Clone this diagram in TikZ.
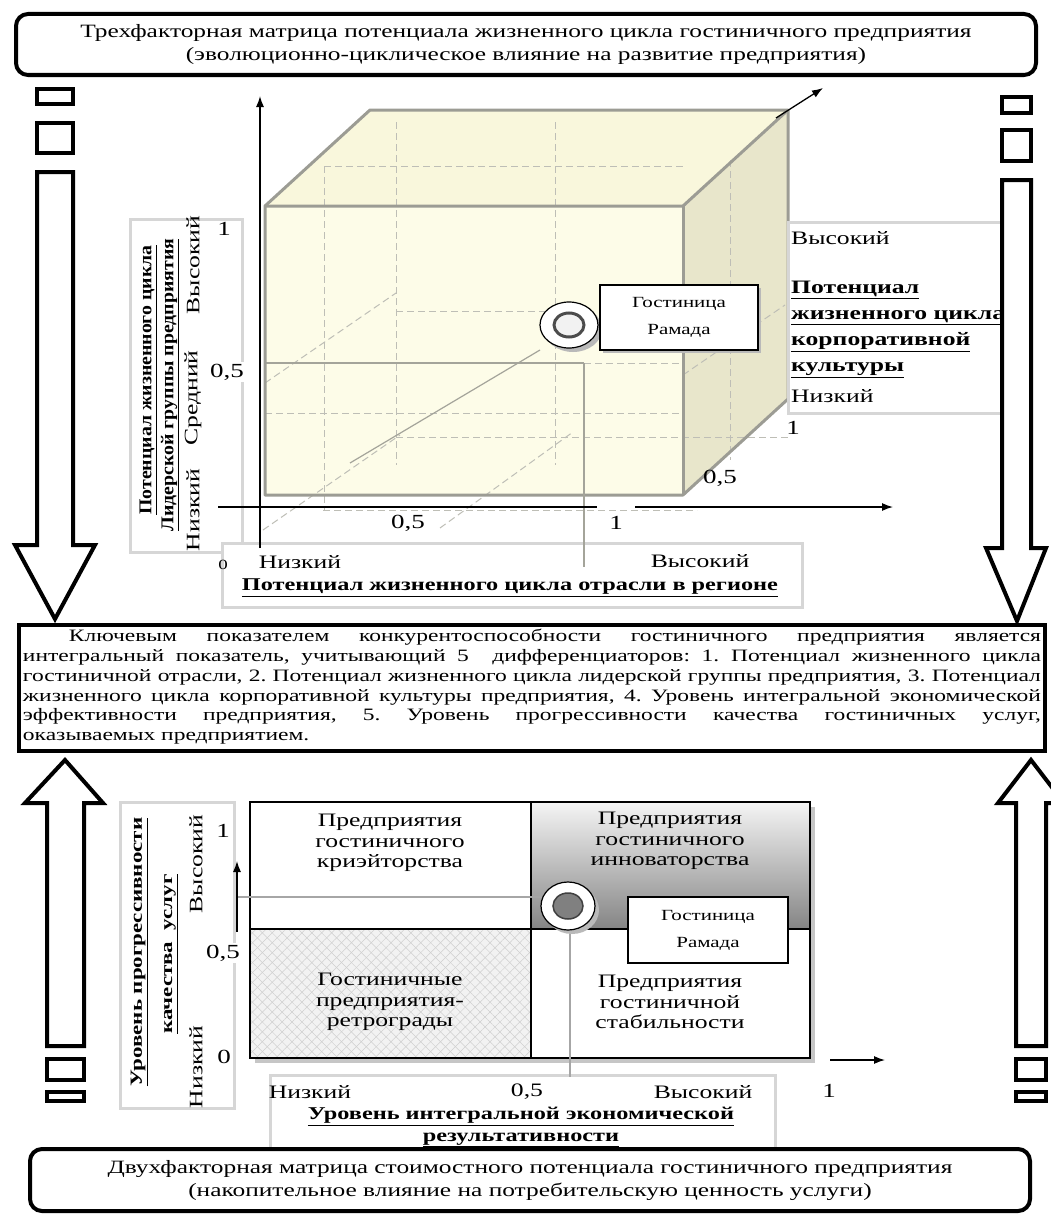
\documentclass[tikz,border=0pt]{standalone}
\usepackage{fontspec}
\setmainfont{Liberation Serif}[FakeStretch=1.35]
\newfontfamily\narrowfont{Liberation Serif}[FakeStretch=1.1]
\usetikzlibrary{arrows.meta,patterns.meta,shadings}
\frenchspacing
\definecolor{cubefront}{HTML}{FDFCE8}
\definecolor{cubetop}{HTML}{F9F7DC}
\definecolor{cubeside}{HTML}{E8E6CB}
\definecolor{cubeedge}{HTML}{9C9C94}
\definecolor{gridgray}{HTML}{BEBEB6}
\definecolor{thingray}{HTML}{A4A49A}
\definecolor{boxgray}{HTML}{D6D6D6}
\definecolor{hatchgray}{HTML}{CFCFCF}
\tikzset{
  blockarrow/.style={draw=black,line width=4pt,fill=white,line join=miter},
  barbox/.style={draw=black,line width=4pt,fill=white},
  lbl/.style={font=\fontsize{19}{22}\selectfont,inner sep=0pt},
  numlbl/.style={font=\fontsize{20}{22}\selectfont,inner sep=1.5pt,fill=white},
  blbl/.style={font=\fontsize{18}{26}\selectfont\bfseries,inner sep=0pt},
  griddash/.style={draw=gridgray,dash pattern=on 7pt off 4pt,line width=1pt},
  thinline/.style={draw=thingray,line width=1.2pt},
  graybox/.style={draw=boxgray,line width=3pt,fill=white},
  quadtxt/.style={font=\fontsize{19}{20.5}\selectfont,align=center,inner sep=0pt},
  ramadabox/.style={draw=black,line width=1.5pt,fill=white,font=\fontsize{15.5}{27}\selectfont,align=center},
  axisarrow/.style={draw=black,line width=1.3pt,-{Latex[length=11pt,width=8pt]}},
  axisline/.style={draw=black,line width=1.3pt},
  titlebox/.style={draw=black,line width=4pt,rounded corners=12pt,fill=white,align=center,font=\fontsize{18.8}{23}\selectfont},
}
\begin{document}
\begin{tikzpicture}[x=1pt,y=-1pt]
\useasboundingbox (0,0) rectangle (1050,1215);
\fill[white] (0,0) rectangle (1050,1215);

% ---------- top title ----------
\node[titlebox,minimum width=1020pt,minimum height=61pt] (title) at (526,44.5)
  {Трехфакторная матрица потенциала жизненного цикла гостиничного предприятия\\(эволюционно-циклическое влияние на развитие предприятия)};

% ---------- cube ----------
\coordinate (FTL) at (265,206);
\coordinate (FTR) at (683,206);
\coordinate (FBR) at (683,495);
\coordinate (FBL) at (265,495);
\coordinate (BTL) at (370,110);
\coordinate (BTR) at (788,110);
\coordinate (BBR) at (788,399);
\fill[cubetop] (FTL) -- (FTR) -- (BTR) -- (BTL) -- cycle;
\fill[cubeside] (FTR) -- (BTR) -- (BBR) -- (FBR) -- cycle;
\fill[cubefront] (FTL) rectangle (FBR);

% grid
\draw[griddash] (324,166) -- (324,510);
\draw[griddash] (324,166) -- (683,166);
\draw[griddash] (730,160) -- (730,460);
\draw[griddash] (396,122) -- (396,465);
\draw[griddash] (555,122) -- (555,465);
\draw[griddash] (396,311) -- (555,311);
\draw[griddash] (265,413) -- (683,413);
\draw[griddash] (396,437) -- (790,437);
\draw[griddash] (584,363) -- (683,363);
\draw[griddash] (265,383) -- (396,293);
\draw[griddash] (263,530) -- (400,435);
\draw[griddash] (440,528) -- (573,432);
\draw[griddash] (683,375) -- (785,305);
\draw[griddash] (323,510) -- (697,510);
\draw[thinline] (265,363) -- (584,363);
\draw[thinline] (350,463) -- (540,350);

% cube edges
\draw[cubeedge,line width=3pt,line join=round] (FBL) -- (FTL) -- (BTL) -- (BTR) -- (BBR) -- (FBR) -- cycle;
\draw[cubeedge,line width=3pt,line join=round] (FTL) -- (FTR) -- (BTR);
\draw[cubeedge,line width=3pt] (FTR) -- (FBR);

% label boxes of cube
\draw[graybox] (130,219) rectangle (242,552);
\draw[graybox] (788,222) rectangle (1021,413);
\draw[graybox] (222,543) rectangle (802,607);

\draw[thinline] (584,363) -- (584,567);

% axes
\coordinate (yb) at (260,548);
\coordinate (yt) at (260,96);
\draw[axisarrow] (yb) -- (yt);
\coordinate (xa) at (218,507);
\coordinate (xb) at (597,507);
\coordinate (xc) at (635,507);
\coordinate (xd) at (893,507);
\draw[axisline] (xa) -- (xb);
\draw[axisarrow] (xc) -- (xd);
\coordinate (za) at (776,118);
\coordinate (zb) at (823,88);
\draw[axisarrow] (za) -- (zb);

% Ramada marker (cube)
\fill[gray!55] (573,329) ellipse [x radius=29, y radius=23];
\draw[black,line width=1.2pt,fill=white] (569,325) ellipse [x radius=29, y radius=23];
\draw[black!70,line width=3pt,fill=white!95!black] (569,325) ellipse [x radius=15, y radius=12];
\node (ring1) at (569,325) {};
\fill[gray!55] (603,288) rectangle (761,353);
\node[ramadabox,minimum width=158pt,minimum height=65pt] (ramada1) at (679,317.5) {Гостиница\\Рамада};

% cube labels
\node[numlbl] (c1) at (224,229) {1};
\node[numlbl] (c05) at (227,372) {0,5};
\node[lbl,font=\fontsize{14}{16}\selectfont] (c0) at (223,565) {0};
\node[lbl] (cnx) at (300,562) {Низкий};
\node[lbl] (cvx) at (700,561) {Высокий};
\node[blbl] (cxt) at (510,588) {\underline{Потенциал жизненного цикла отрасли в регионе}};
\node[numlbl,fill=none] (cx05) at (408,523) {0,5};
\node[numlbl,fill=none] (cx1) at (616,523) {1};
\node[numlbl,fill=none] (cz05) at (720,478) {0,5};
\node[numlbl,fill=none] (cz1) at (793,428) {1};

\node[lbl,rotate=90,font=\narrowfont\fontsize{18}{22}\selectfont\bfseries] (cyt1) at (148,380) {\underline{Потенциал жизненного цикла}};
\node[lbl,rotate=90,font=\narrowfont\fontsize{18}{22}\selectfont\bfseries] (cyt2) at (170,385) {\underline{Лидерской группы предприятия}};
\node[lbl,rotate=90] (cyn) at (193,510) {Низкий};
\node[lbl,rotate=90] (cys) at (193,398) {Средний};
\node[lbl,rotate=90] (cyv) at (193,265) {Высокий};

\node[lbl,anchor=west] (czv) at (791,238) {Высокий};
\node[lbl,anchor=north west,align=left,font=\fontsize{19}{26}\selectfont\bfseries] (czt) at (791,281)
  {\underline{Потенциал}\\\underline{жизненного цикла}\\\underline{корпоративной}\\\underline{культуры}};
\node[lbl,anchor=west] (czn) at (791,396) {Низкий};

% ---------- central box ----------
\node[draw=black,line width=4pt,minimum width=1026pt,minimum height=126pt,inner sep=0pt] (core) at (532,688) {};
\node[text width=1018pt,align=justify,inner sep=0pt,font=\fontsize{17.4}{19.8}\selectfont,anchor=north] (coretext) at (532,629)
{\hspace*{46pt}Ключевым показателем конкурентоспособности гостиничного предприятия является\linebreak
интегральный показатель, учитывающий 5\ \ дифференциаторов: 1. Потенциал жизненного цикла\linebreak
гостиничной отрасли, 2. Потенциал жизненного цикла лидерской группы предприятия, 3. Потенциал\linebreak
жизненного цикла корпоративной культуры предприятия, 4. Уровень интегральной экономической\linebreak
эффективности предприятия, 5. Уровень прогрессивности качества гостиничных услуг,\linebreak
оказываемых предприятием.};

% ---------- bottom matrix ----------
\draw[graybox] (120,802) rectangle (234,1108);
\draw[graybox] (270,1075) rectangle (775,1150);

\fill[gray!45] (255,807) rectangle (815,1063);
\fill[white] (250,802) rectangle (531,929);
\shade[top color=white!96!black,bottom color=black!48] (531,802) rectangle (810,929);
\fill[white!95!black] (250,929) rectangle (531,1058);
\fill[pattern={Lines[angle=45,distance=7pt,line width=0.5pt]},pattern color=hatchgray] (250,929) rectangle (531,1058);
\fill[pattern={Lines[angle=-45,distance=7pt,line width=0.5pt]},pattern color=hatchgray] (250,929) rectangle (531,1058);
\fill[white] (531,929) rectangle (810,1058);
\draw[black,line width=2pt] (250,802) rectangle (810,1058);
\draw[black,line width=2pt] (531,802) -- (531,1058);
\draw[black,line width=2pt] (250,929) -- (810,929);

\node[quadtxt] (q1) at (390,843) {Предприятия\\гостиничного\\криэйторства};
\node[quadtxt] (q2) at (670,841) {Предприятия\\гостиничного\\инноваторства};
\node[quadtxt] (q3) at (390,1002) {Гостиничные\\предприятия-\\ретрограды};
\node[quadtxt] (q4) at (670,1002) {Предприятия\\гостиничной\\стабильности};

\draw[thinline,draw=gray!70] (237,897) -- (543,897);
\draw[thinline,draw=gray!70] (570,930) -- (570,1077);
\coordinate (sa) at (237,932);
\coordinate (sb) at (237,861);
\draw[axisarrow] (sa) -- (sb);
\coordinate (bxa) at (830,1060);
\coordinate (bxb) at (885,1060);
\draw[axisarrow] (bxa) -- (bxb);

\fill[gray!55] (572,910) ellipse [x radius=27, y radius=24];
\draw[black,line width=1.2pt,fill=white] (568,906) ellipse [x radius=27, y radius=24];
\draw[black!75,line width=1.5pt,fill=black!50] (568,906) ellipse [x radius=15, y radius=13];
\node (ring2) at (568,906) {};
\node[ramadabox,minimum width=160pt,minimum height=66pt] (ramada2) at (708,930) {Гостиница\\Рамада};

\node[numlbl] (b1) at (223,831) {1};
\node[numlbl] (b05) at (223,953) {0,5};
\node[numlbl] (b0) at (224,1057) {0};
\node[numlbl,fill=none] (bx1) at (829,1091) {1};
\node[lbl] (bnx) at (310,1092) {Низкий};
\node[lbl] (b05x) at (527,1092) {0,5};
\node[lbl] (bvx) at (703,1092) {Высокий};
\node[blbl,align=center,font=\fontsize{18}{21.5}\selectfont\bfseries] (bxt) at (521,1127)
  {\underline{Уровень интегральной экономической}\\\underline{результативности}};

\node[lbl,rotate=90,font=\fontsize{17}{22}\selectfont\bfseries] (byt1) at (139,952) {\underline{Уровень прогрессивности}};
\node[lbl,rotate=90,font=\fontsize{17}{22}\selectfont\bfseries] (byt2) at (171,954) {\underline{качества\ \ услуг}};
\node[lbl,rotate=90] (byv) at (196,864) {Высокий};
\node[lbl,rotate=90] (byn) at (196,1067) {Низкий};

% ---------- bottom title ----------
\node[titlebox,minimum width=1000pt,minimum height=62pt] (btitle) at (530,1180)
  {Двухфакторная матрица стоимостного потенциала гостиничного предприятия\\(накопительное влияние на потребительскую ценность услуги)};

% ---------- block arrows ----------
\draw[barbox] (37,89) rectangle (73,104);
\draw[barbox] (37,123) rectangle (73,153);
\draw[blockarrow] (37,172) -- (73,172) -- (73,545) -- (95,545) -- (55,619) -- (15,545) -- (37,545) -- cycle;

\draw[barbox] (1002,97) rectangle (1031,113);
\draw[barbox] (1002,130) rectangle (1031,161);
\draw[blockarrow] (1002,180) -- (1031,180) -- (1031,548) -- (1046,548) -- (1017,621) -- (986,548) -- (1002,548) -- cycle;

\draw[blockarrow] (47,1046) -- (84,1046) -- (84,803) -- (103,803) -- (65,760) -- (25,803) -- (47,803) -- cycle;
\draw[barbox] (47,1059) rectangle (84,1080);
\draw[barbox] (47,1092) rectangle (84,1101);

\draw[blockarrow] (1016,1046) -- (1046,1046) -- (1046,803) -- (1064,803) -- (1031,760) -- (998,803) -- (1016,803) -- cycle;
\draw[barbox] (1016,1059) rectangle (1046,1080);
\draw[barbox] (1016,1092) rectangle (1046,1101);
\end{tikzpicture}
\end{document}
